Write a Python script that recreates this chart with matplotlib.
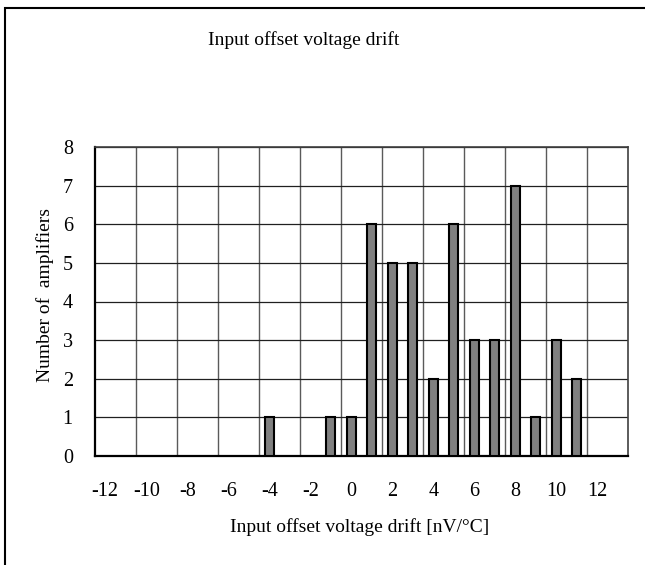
import matplotlib
matplotlib.use("Agg")
import matplotlib.pyplot as plt
from matplotlib.patches import Rectangle
import numpy as np

# Histogram of input offset voltage drift across the tested amplifiers
drift_values = [-4, -1, 0, 1, 2, 3, 4, 5, 6, 7, 8, 9, 10, 11]
amplifier_counts = [1, 1, 1, 6, 5, 5, 2, 6, 3, 3, 7, 1, 3, 2]
x_tick_values = [-12, -10, -8, -6, -4, -2, 0, 2, 4, 6, 8, 10, 12]
y_tick_values = [0, 1, 2, 3, 4, 5, 6, 7, 8]

title = "Input offset voltage drift"
x_label = "Input offset voltage drift [nV/°C]"
y_label = "Number of  amplifiers"

plt.rcParams["font.family"] = ["Liberation Serif", "DejaVu Serif"]

W, H = 645, 565
fig = plt.figure(figsize=(W / 100, H / 100), dpi=100)
fig.patch.set_facecolor("white")

# plot area in pixels: left 95, right 628, top 147, bottom 456
left, right, top, bottom = 95, 628, 147, 456
ax = fig.add_axes([left / W, 1 - bottom / H, (right - left) / W, (bottom - top) / H])

ax.bar(drift_values, amplifier_counts, width=0.45, color="#808080",
       edgecolor="black", linewidth=1.5, zorder=3)

ax.set_xlim(-12.5, 13.5)
ax.set_ylim(0, 8)

ax.set_xticks(x_tick_values)
ax.set_xticklabels([str(v) for v in x_tick_values], fontsize=14.5)
ax.set_xticks(np.arange(-10.5, 13.0, 2.0), minor=True)
ax.set_yticks(y_tick_values)
ax.set_yticklabels([str(v) for v in y_tick_values], fontsize=14.5)

ax.tick_params(axis="x", which="major", length=0, pad=19)
ax.tick_params(axis="x", which="minor", length=3, direction="in", color="#606060")
ax.tick_params(axis="y", which="major", length=0, pad=16)

ax.grid(which="minor", axis="x", color="#5a5a5a", linewidth=1.0, zorder=0)
ax.grid(which="major", axis="y", color="#202020", linewidth=0.9, zorder=0)
ax.grid(which="major", axis="x", visible=False)
ax.set_axisbelow(True)

for side in ("left", "bottom"):
    ax.spines[side].set_color("black")
    ax.spines[side].set_linewidth(1.6)
for side in ("top", "right"):
    ax.spines[side].set_color("#404040")
    ax.spines[side].set_linewidth(1.2)

fig.text(304 / W, 1 - 40 / H, title, ha="center", va="center", fontsize=14)
fig.text(360 / W, 1 - 527 / H, x_label, ha="center", va="center", fontsize=14)
fig.text(45 / W, 1 - 295 / H, y_label, ha="center", va="center",
         rotation=90, fontsize=14)

# outer chart frame, open past the right and bottom edges
fig.add_artist(Rectangle((5 / W, -0.1), 1.2, 1 - 8 / H + 0.1,
                         transform=fig.transFigure, fill=False,
                         edgecolor="black", linewidth=1.5))

fig.savefig("out.png", dpi=100, facecolor="white")
